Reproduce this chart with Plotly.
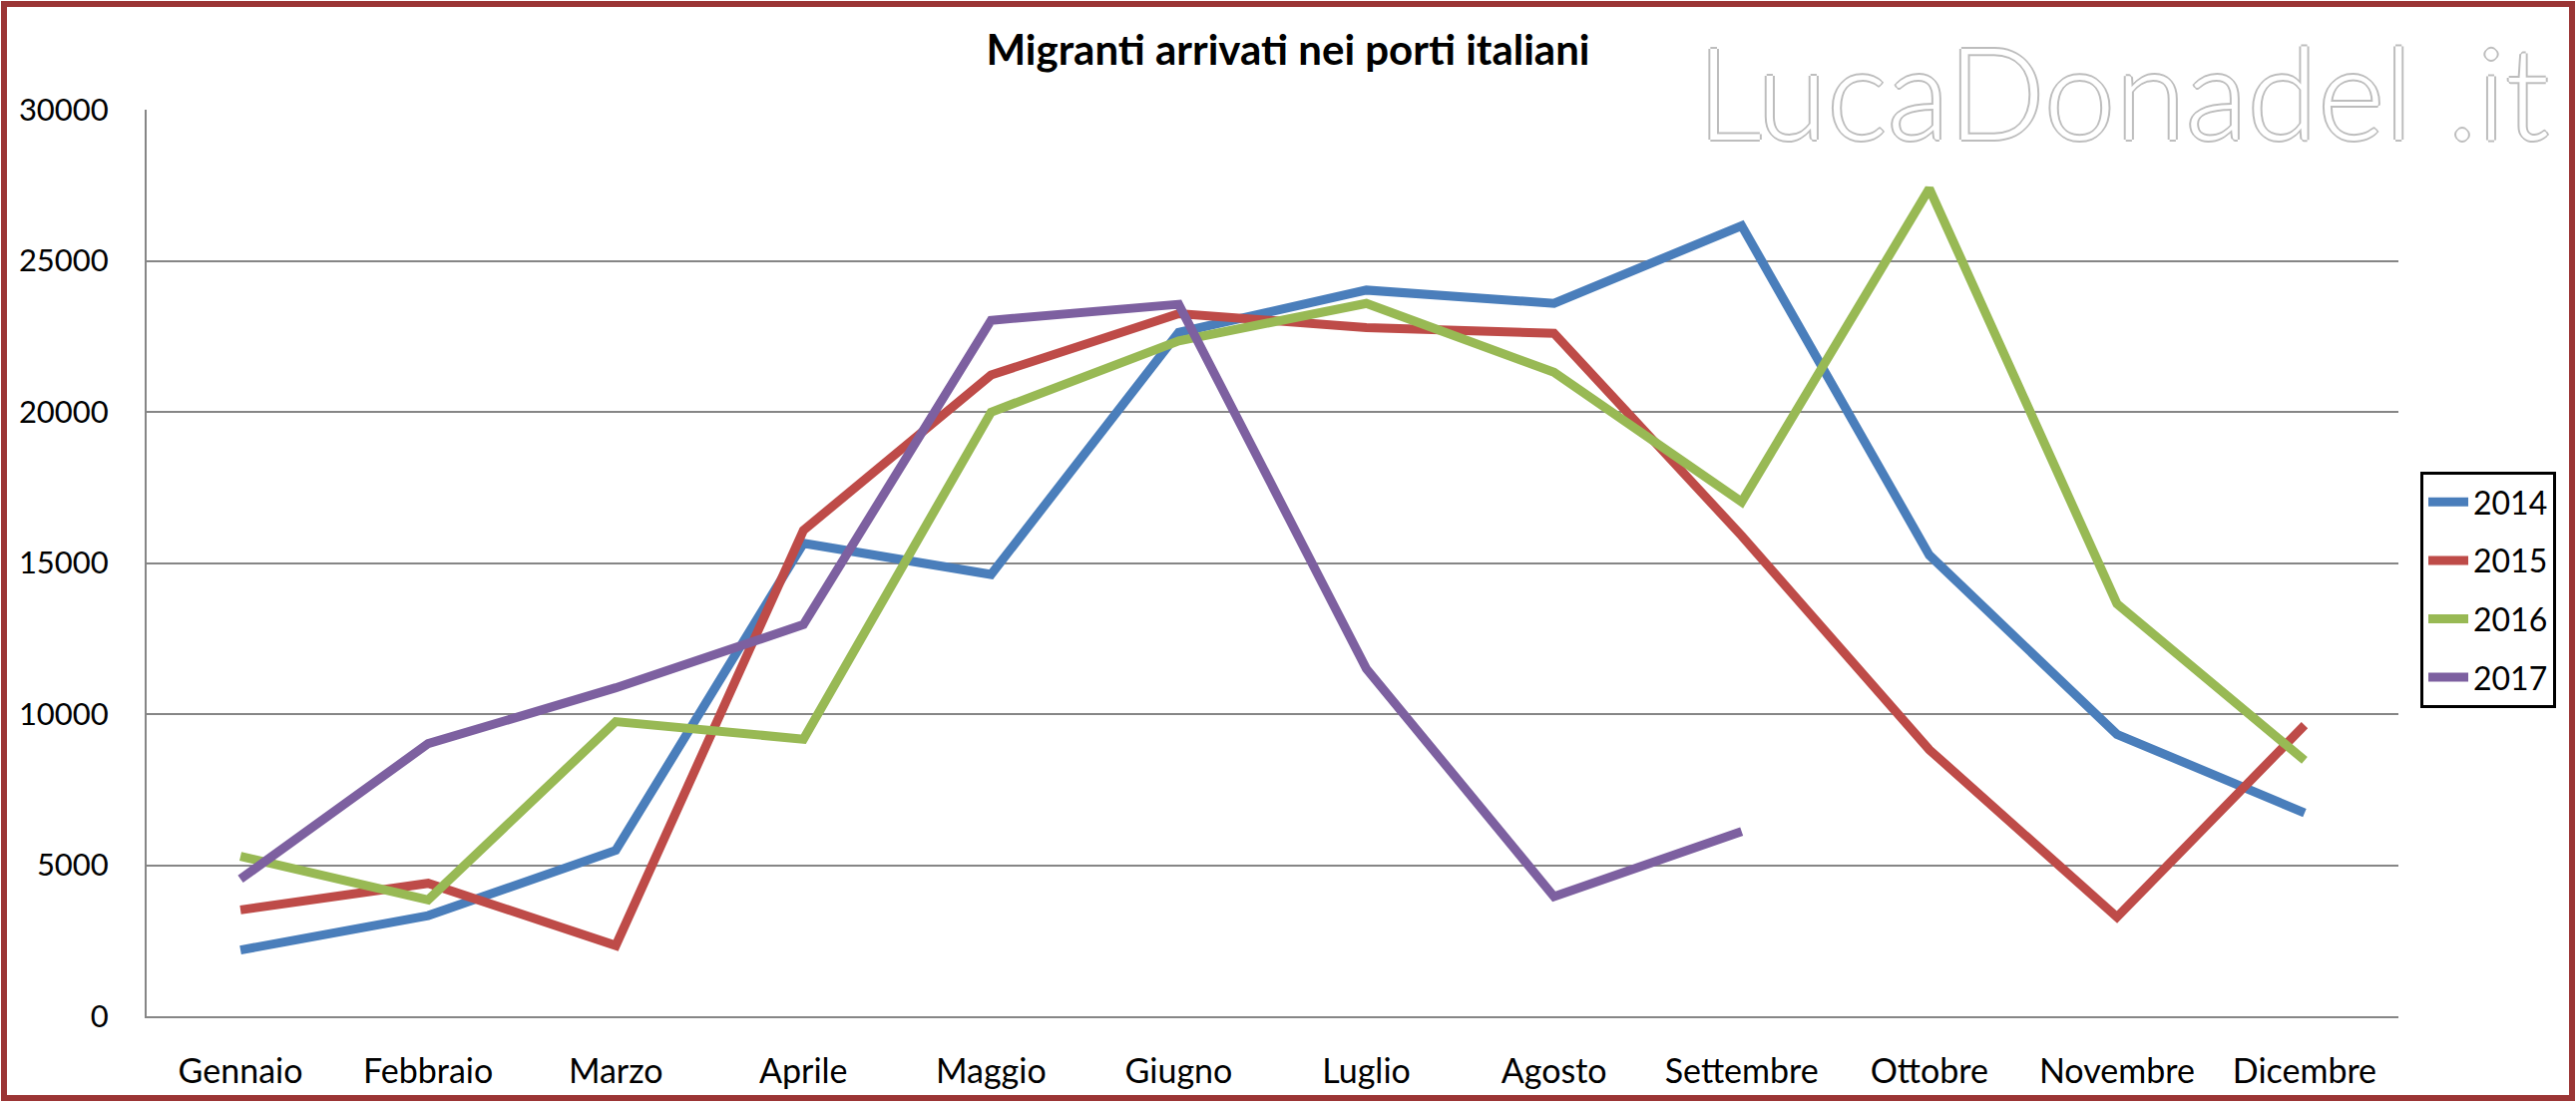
import plotly.graph_objects as go

mesi = ["Gennaio", "Febbraio", "Marzo", "Aprile", "Maggio", "Giugno",
        "Luglio", "Agosto", "Settembre", "Ottobre", "Novembre", "Dicembre"]

arrivi_2014 = [2190, 3330, 5490, 15650, 14620, 22630, 24030, 23590, 26160, 15260, 9330, 6730]
arrivi_2015 = [3520, 4400, 2340, 16080, 21220, 23250, 22790, 22600, 15900, 8820, 3280, 9630]
arrivi_2016 = [5290, 3850, 9750, 9170, 19990, 22350, 23590, 21310, 17020, 27390, 13650, 8470]
arrivi_2017 = [4540, 9020, 10870, 12960, 23030, 23560, 11500, 3960, 6110]

serie = [
    ("2014", arrivi_2014, "#4a7ebb"),
    ("2015", arrivi_2015, "#be4b48"),
    ("2016", arrivi_2016, "#98b954"),
    ("2017", arrivi_2017, "#7d60a0"),
]

W, H = 2582, 1106
L, R, T, B = 147, 178, 110, 87
PW, PH = W - L - R, H - T - B

FONT = "Lato, Carlito, Calibri, sans-serif"

fig = go.Figure()
for nome, valori, colore in serie:
    fig.add_trace(go.Scatter(
        x=mesi[:len(valori)], y=valori, name=nome, mode="lines",
        line=dict(color=colore, width=9, shape="linear"),
        legendgroup=nome,
    ))

def px_x(p):
    return (p - L) / PW

def px_y(p):
    return (H - B - p) / PH

fig.update_layout(
    width=W, height=H,
    margin=dict(l=L, r=R, t=T, b=B, autoexpand=False),
    paper_bgcolor="white", plot_bgcolor="white",
    font=dict(family=FONT, color="black", size=31),
    title=dict(text="<b>Migranti arrivati nei porti italiani</b>",
               x=0.5, xanchor="center", y=1 - 50 / H, yanchor="middle",
               font=dict(family=FONT, size=42, color="black")),
    showlegend=True,
    legend=dict(x=px_x(2426), y=px_y(473), xanchor="left", yanchor="top",
                bordercolor="black", borderwidth=3, bgcolor="white",
                font=dict(family=FONT, size=32, color="black"),
                tracegroupgap=14, itemwidth=40),
    xaxis=dict(type="category", range=[-0.5, 11.5], showgrid=False,
               showline=True, linecolor="#868686", linewidth=2,
               ticks="", ticklabelstandoff=24,
               tickfont=dict(family=FONT, size=34, color="black"),
               fixedrange=True),
    yaxis=dict(range=[0, 30000], tick0=0, dtick=5000, showgrid=True,
               gridcolor="#868686", gridwidth=1.5,
               showline=True, linecolor="#868686", linewidth=2,
               zeroline=False, ticks="", ticklabelstandoff=30,
               tickformat="d",
               tickfont=dict(family=FONT, size=31, color="black"),
               fixedrange=True),
)

# watermark
fig.add_annotation(
    text="LucaDonadel .it", xref="paper", yref="paper",
    x=px_x(2128), y=px_y(90), xanchor="center", yanchor="middle",
    showarrow=False,
    font=dict(family="Lato", size=128, color="white", weight=300,
              shadow="2px 0 0 #bdbdbd, -2px 0 0 #bdbdbd, 0 2px 0 #bdbdbd, 0 -2px 0 #bdbdbd"),
)

# outer border
fig.add_shape(type="rect", xref="paper", yref="paper",
              x0=px_x(4), x1=px_x(2578), y0=px_y(1101), y1=px_y(4),
              line=dict(color="#9b3535", width=6), fillcolor="rgba(0,0,0,0)",
              layer="above")

fig.write_html("out.html",
               config={"displayModeBar": False},
               post_script="document.body.style.margin='0';document.body.style.overflow='hidden';")
